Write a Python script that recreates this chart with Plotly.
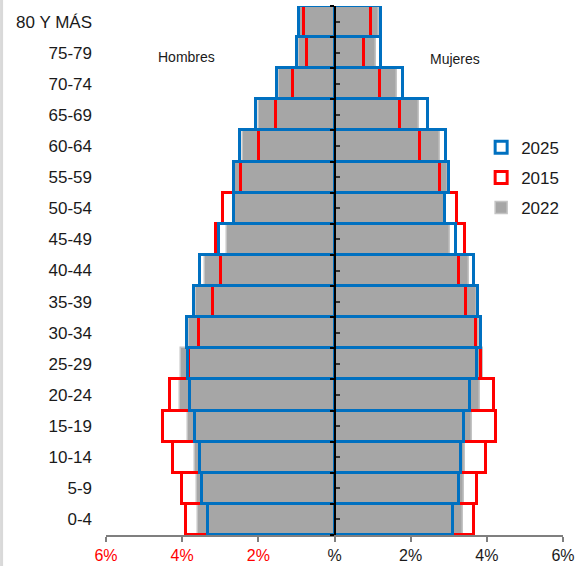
import plotly.graph_objects as go

# Age groups, bottom to top
age_groups = ["0-4", "5-9", "10-14", "15-19", "20-24", "25-29", "30-34", "35-39",
              "40-44", "45-49", "50-54", "55-59", "60-64", "65-69", "70-74", "75-79", "80 Y MÁS"]

# Percent of population (men plotted to the left)
men_2025 = [3.32, 3.49, 3.54, 3.67, 3.79, 3.86, 3.88, 3.69, 3.54, 3.04, 2.63, 2.65, 2.48, 2.06, 1.50, 0.98, 0.94]
men_2015 = [3.90, 4.00, 4.25, 4.51, 4.32, 3.83, 3.56, 3.18, 2.99, 3.12, 2.93, 2.45, 1.99, 1.54, 1.10, 0.71, 0.81]
men_2022 = [3.59, 3.61, 3.67, 3.85, 4.05, 4.02, 3.83, 3.64, 3.39, 2.83, 2.62, 2.64, 2.41, 1.97, 1.45, 0.93, 0.91]

women_2025 = [3.12, 3.27, 3.31, 3.41, 3.56, 3.74, 3.85, 3.78, 3.65, 3.19, 2.91, 3.01, 2.92, 2.46, 1.79, 1.22, 1.22]
women_2015 = [3.67, 3.74, 3.97, 4.23, 4.19, 3.84, 3.71, 3.44, 3.28, 3.43, 3.22, 2.76, 2.25, 1.71, 1.20, 0.77, 0.95]
women_2022 = [3.37, 3.39, 3.43, 3.60, 3.82, 3.91, 3.79, 3.74, 3.54, 3.04, 2.89, 2.97, 2.76, 2.23, 1.64, 1.08, 1.18]

x_tickvals = [-6, -4, -2, 0, 2, 4, 6]
x_ticklabels = ["6%", "4%", "2%", "%", "2%", "4%", "6%"]

BLUE = "#0070C0"
RED = "#FF0000"
GRAY = "#A6A6A6"
FONT = "Liberation Sans, Arial, sans-serif"

def neg(v):
    return [-a for a in v]

fig = go.Figure()

# 2015: white fill with red outline (bottom layer)
for vals, show in [(neg(men_2015), True), (women_2015, False)]:
    fig.add_trace(go.Bar(
        y=age_groups, x=vals, orientation="h", name="2015",
        marker=dict(color="white", line=dict(color=RED, width=3)),
        showlegend=show, legendrank=2, legendgroup="g2015", hoverinfo="skip"))

# 2022: gray filled bars
for vals, show in [(neg(men_2022), True), (women_2022, False)]:
    fig.add_trace(go.Bar(
        y=age_groups, x=vals, orientation="h", name="2022",
        marker=dict(color=GRAY, line=dict(color="#C4C4C4", width=1.5)),
        showlegend=show, legendrank=3, legendgroup="g2022", hoverinfo="skip"))

# 2015 outline on top of gray
for vals in [neg(men_2015), women_2015]:
    fig.add_trace(go.Bar(
        y=age_groups, x=vals, orientation="h", name="2015",
        marker=dict(color="rgba(0,0,0,0)", line=dict(color=RED, width=3)),
        showlegend=False, legendgroup="g2015", hoverinfo="skip"))

# 2025: blue outline
for vals, show in [(neg(men_2025), True), (women_2025, False)]:
    fig.add_trace(go.Bar(
        y=age_groups, x=vals, orientation="h", name="2025",
        marker=dict(color="rgba(255,255,255,0)", line=dict(color=BLUE, width=3)),
        showlegend=show, legendrank=1, legendgroup="g2025", hoverinfo="skip"))

ticktext = []
for v, t in zip(x_tickvals, x_ticklabels):
    if v < 0:
        ticktext.append('<span style="color:#FF0000">' + t + '</span>')
    else:
        ticktext.append(t)

n = len(age_groups)
fig.update_layout(
    width=576, height=566,
    margin=dict(l=105.7, r=13.1, t=6.4, b=30.6),
    paper_bgcolor="white", plot_bgcolor="white",
    barmode="overlay", bargap=0,
    font=dict(family=FONT, size=17, color="#1a1a1a"),
    xaxis=dict(range=[-6, 6], tickvals=x_tickvals, ticktext=ticktext, automargin=False,
               showgrid=False, zeroline=False, showline=True, linecolor="#7f7f7f", linewidth=1.5,
               ticks="outside", ticklen=5, tickcolor="#7f7f7f", tickwidth=1.5,
               tickfont=dict(size=16, color="#1a1a1a"), fixedrange=True),
    yaxis=dict(range=[-0.5, n - 0.5], showgrid=False, zeroline=False, showline=False,
               automargin=False,
               ticks="", ticklabelstandoff=13, tickfont=dict(size=17, color="#1a1a1a"),
               categoryorder="array", categoryarray=age_groups),
    yaxis2=dict(overlaying="y", anchor="free", position=0.5, range=[-0.5, n - 0.5],
                showline=True, linecolor="black", linewidth=2, showgrid=False, zeroline=False,
                showticklabels=False, automargin=False,
                tickvals=[k - 0.5 for k in range(n + 1)], ticks="outside", ticklen=4,
                tickcolor="black", tickwidth=1.5,
                minor=dict(tickvals=list(range(n)), ticks="inside", ticklen=4,
                           tickcolor="#333333", tickwidth=1.5)),
    legend=dict(x=0.8209, xanchor="left", y=0.766, yanchor="top",
                font=dict(size=17, color="#1a1a1a"), bgcolor="rgba(0,0,0,0)",
                traceorder="grouped", tracegroupgap=5, itemclick=False),
    showlegend=True,
)

# dummy trace to activate yaxis2
fig.add_trace(go.Scatter(x=[None], y=[None], yaxis="y2", showlegend=False, hoverinfo="skip"))

fig.add_annotation(text="Hombres", x=-3.89, y=0.904, xref="x", yref="paper",
                   xanchor="center", yanchor="middle",
                   showarrow=False, font=dict(size=14, color="#1a1a1a"))
fig.add_annotation(text="Mujeres", x=3.17, y=0.899, xref="x", yref="paper",
                   xanchor="center", yanchor="middle",
                   showarrow=False, font=dict(size=14, color="#1a1a1a"))

# light left border
fig.add_shape(type="line", xref="paper", yref="paper", x0=-0.2285, x1=-0.2285, y0=-0.06, y1=1.02,
              line=dict(color="#D9D9D9", width=3))

fig.write_html("out.html", config={"displayModeBar": False},
               post_script="document.body.style.margin='0';document.body.style.overflow='hidden';")
